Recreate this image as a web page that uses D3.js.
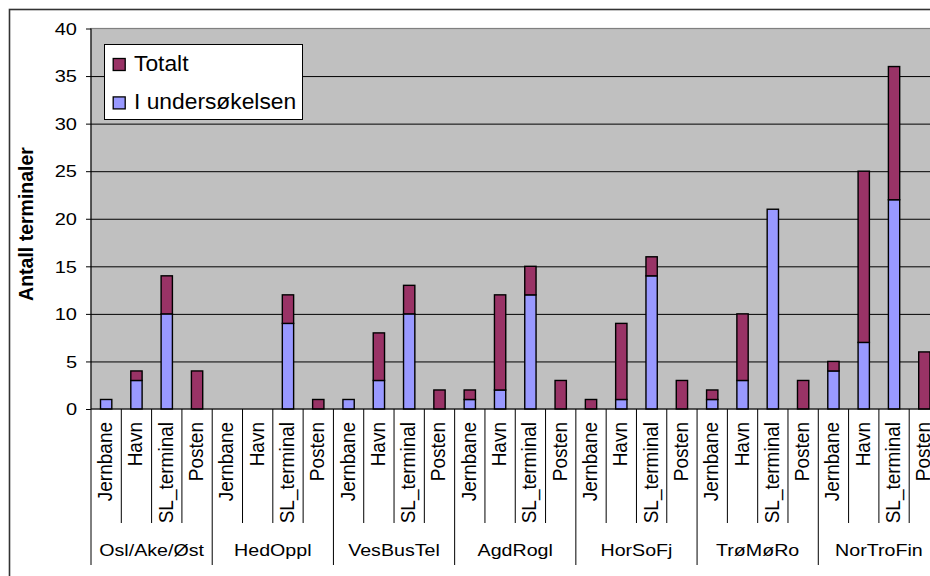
<!DOCTYPE html>
<html>
<head>
<meta charset="utf-8">
<script src="https://cdn.jsdelivr.net/npm/d3@7/dist/d3.min.js"></script>
<style>
  body { margin: 0; background: #fff; }
  svg text { font-family: Arial, "Liberation Sans", sans-serif; fill: #000; }
</style>
</head>
<body>
<svg id="chart" width="930" height="576"></svg>
<script>
// Regions (outer category level) and terminal types (inner level)
const regions = ["Osl/Ake/Øst", "HedOppl", "VesBusTel", "AgdRogl", "HorSoFj", "TrøMøRo", "NorTroFin"];
const types = ["Jernbane", "Havn", "SL_terminal", "Posten"];

// Terminals included in the survey, per region, in the order of `types`
const undersokt = [
  [1, 3, 10, 0],
  [0, 0, 9, 0],
  [1, 3, 10, 0],
  [1, 2, 12, 0],
  [0, 1, 14, 0],
  [1, 3, 21, 0],
  [4, 7, 22, 0]
];
// Total number of terminals, per region
const totalt = [
  [1, 4, 14, 4],
  [0, 0, 12, 1],
  [1, 8, 13, 2],
  [2, 12, 15, 3],
  [1, 9, 16, 3],
  [2, 10, 21, 3],
  [5, 25, 36, 6]
];

const yTicks = [0, 5, 10, 15, 20, 25, 30, 35, 40];
const seriesNames = ["Totalt", "I undersøkelsen"];
const colors = { "Totalt": "#993366", "I undersøkelsen": "#9999FF" };

const svg = d3.select("#chart");
const plot = { left: 91, top: 28.5, right: 939.5, bottom: 409 };

// chart frame
svg.append("rect")
  .attr("x", 9.5).attr("y", 9.5)
  .attr("width", 1000).attr("height", 600)
  .attr("fill", "#fff").attr("stroke", "#333").attr("stroke-width", 1.6);

// flat rows, one per bar
const rows = [];
regions.forEach((r, i) => types.forEach((t, j) => {
  rows.push({ key: r + "|" + t, region: r, type: t, u: undersokt[i][j], tot: totalt[i][j] });
}));

const x = d3.scaleBand()
  .domain(rows.map(d => d.key))
  .range([plot.left, plot.right])
  .paddingInner(0.627)
  .paddingOuter(0.3135);
const step = x.step();

const y = d3.scaleLinear().domain([0, 40]).range([plot.bottom, plot.top]);

// plot area
svg.append("rect")
  .attr("x", plot.left).attr("y", plot.top)
  .attr("width", plot.right - plot.left).attr("height", plot.bottom - plot.top)
  .attr("fill", "#c0c0c0").attr("stroke", "#808080").attr("stroke-width", 1.2);

// horizontal gridlines
const grid = svg.append("g")
  .attr("transform", `translate(${plot.left},0)`)
  .call(d3.axisLeft(y).tickValues(yTicks.slice(1, -1))
    .tickSize(-(plot.right - plot.left)).tickFormat(""));
grid.select(".domain").remove();
grid.selectAll(".tick line").attr("stroke", "#000").attr("stroke-width", 1);

// stacked segments: surveyed at the bottom, the rest of the total above
const stack = d3.stack()
  .keys(["I undersøkelsen", "Totalt"])
  .value((d, k) => k === "I undersøkelsen" ? d.u : d.tot - d.u);
const layers = stack(rows);

svg.append("g").selectAll("g")
  .data(layers)
  .join("g")
  .attr("fill", d => colors[d.key])
  .selectAll("rect")
  .data(d => d.filter(s => s[1] - s[0] > 0))
  .join("rect")
  .attr("x", s => x(s.data.key))
  .attr("width", x.bandwidth())
  .attr("y", s => y(s[1]))
  .attr("height", s => y(s[0]) - y(s[1]))
  .attr("stroke", "#000")
  .attr("stroke-width", 1.4);

// value axis
const sxTick = 1.25;
const yAxis = svg.append("g")
  .attr("transform", `translate(${plot.left},0)`)
  .call(d3.axisLeft(y).tickValues(yTicks).tickSize(5).tickPadding(0));
yAxis.select(".domain").attr("stroke", "#000").attr("d", `M0,${plot.top}V${plot.bottom}`);
yAxis.selectAll(".tick line").attr("stroke", "#000");
yAxis.selectAll(".tick text")
  .attr("font-size", 16)
  .attr("font-family", null)
  .attr("fill", "#000")
  .attr("x", -14 / sxTick)
  .attr("dy", "0.36em")
  .attr("transform", `scale(${sxTick},1)`);

// category axis baseline
svg.append("line")
  .attr("x1", plot.left).attr("x2", plot.right)
  .attr("y1", plot.bottom).attr("y2", plot.bottom)
  .attr("stroke", "#000");

// separators below the axis: short ones between types, long ones between regions
const sepIdx = d3.range(rows.length + 1);
svg.append("g").selectAll("line")
  .data(sepIdx)
  .join("line")
  .attr("x1", i => plot.left + x.paddingOuter() * 0 + i * step)
  .attr("x2", i => plot.left + i * step)
  .attr("y1", plot.bottom)
  .attr("y2", i => i % types.length === 0 ? 565 : 523)
  .attr("stroke", "#000")
  .attr("stroke-width", 1);

// type labels, rotated
svg.append("g").selectAll("text")
  .data(rows)
  .join("text")
  .attr("transform", d => `translate(${x(d.key) + x.bandwidth() / 2 + 6},422) rotate(-90) scale(1,1.08)`)
  .attr("text-anchor", "end")
  .attr("font-size", 19)
  .text(d => d.type);

// region labels
const sxGroup = 1.19;
svg.append("g").selectAll("text")
  .data(regions)
  .join("text")
  .attr("transform", `scale(${sxGroup},1)`)
  .attr("x", (d, i) => (plot.left + (i * types.length + types.length / 2) * step) / sxGroup)
  .attr("y", 556)
  .attr("text-anchor", "middle")
  .attr("font-size", 16.5)
  .text(d => d);

// value axis title
svg.append("text")
  .attr("transform", "translate(33,224) rotate(-90)")
  .attr("text-anchor", "middle")
  .attr("font-size", 19.5)
  .attr("font-weight", "bold")
  .text("Antall terminaler");

// legend
const lg = svg.append("g").attr("transform", "translate(104,44)");
lg.append("rect")
  .attr("x", 0.5).attr("y", 0.5).attr("width", 198).attr("height", 75)
  .attr("fill", "#fff").attr("stroke", "#000");
const items = lg.selectAll("g.item")
  .data(seriesNames)
  .join("g")
  .attr("class", "item")
  .attr("transform", (d, i) => `translate(0,${14.5 + i * 38.4})`);
items.append("rect")
  .attr("x", 9.2).attr("y", 0)
  .attr("width", 12).attr("height", 12)
  .attr("fill", d => colors[d])
  .attr("stroke", "#000").attr("stroke-width", 1.3);
items.append("text")
  .attr("x", 30).attr("y", 12.5)
  .attr("font-size", 22.8)
  .text(d => d);
</script>
</body>
</html>
